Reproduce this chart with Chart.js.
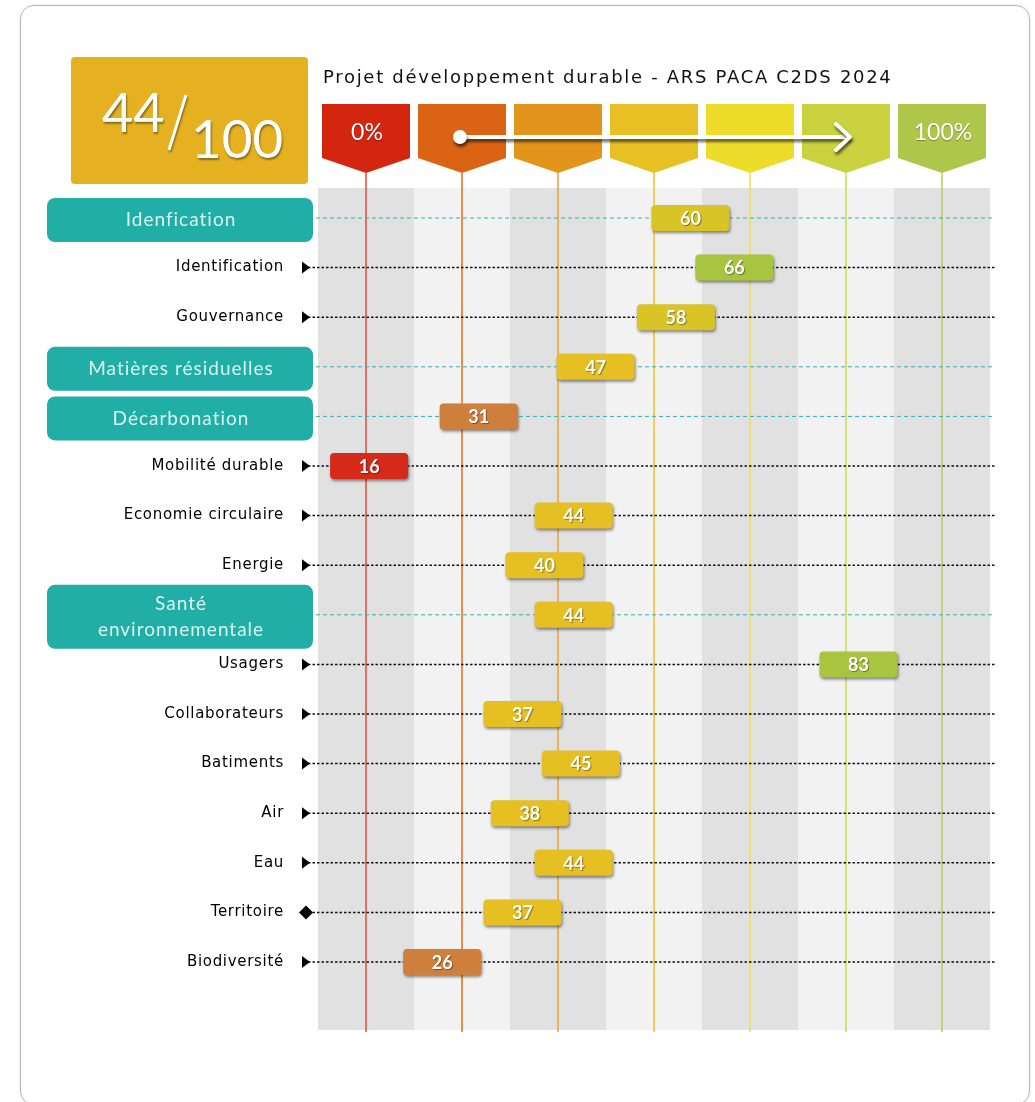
<!DOCTYPE html>
<html lang="fr">
<head>
<meta charset="utf-8">
<title>Projet développement durable - ARS PACA C2DS 2024</title>
<script src="https://cdn.jsdelivr.net/npm/chart.js@4.4.1/dist/chart.umd.min.js"></script>
<style>
  html, body { margin: 0; padding: 0; background: #fff; overflow: hidden; }
  .card {
    position: absolute; left: 20px; top: 5px; width: 1010px; height: 1100px;
    border: 1.5px solid #b8b8b8; border-radius: 14px; box-sizing: border-box;
    box-shadow: 0 0 3px rgba(0,0,0,0.12);
  }
  #chart { position: absolute; left: 0; top: 0; }
</style>
</head>
<body>
<div class="card"></div>
<canvas id="chart" width="1035" height="1102"></canvas>
<script>
// --- data ---
const title = 'Projet développement durable - ARS PACA C2DS 2024';
const globalScore = 44;
const globalMax = 100;

const categories = [
  'Idenfication', 'Identification', 'Gouvernance', 'Matières résiduelles',
  'Décarbonation', 'Mobilité durable', 'Economie circulaire', 'Energie',
  'Santé environnementale', 'Usagers', 'Collaborateurs', 'Batiments',
  'Air', 'Eau', 'Territoire', 'Biodiversité'
];
const scores = [60, 66, 58, 47, 31, 16, 44, 40, 44, 83, 37, 45, 38, 44, 37, 26];
const isTheme = [true, false, false, true, true, false, false, false, true, false, false, false, false, false, false, false];
const markers = ['', 'triangle', 'triangle', '', '', 'triangle', 'triangle', 'triangle', '', 'triangle', 'triangle', 'triangle', 'triangle', 'triangle', 'diamond', 'triangle'];

const stageLabels = ['0%', '', '', '', '', '', '100%'];
const stageColors = ['#d4260f', '#db6414', '#e3941a', '#e9c023', '#eedc2b', '#cad33f', '#aec74a'];
const stageLineColors = ['#e4553c', '#e9731f', '#eaa445', '#efc232', '#eee05a', '#d2da55', '#b9d065'];

// badge colour according to the score
function badgeColor(v) {
  if (v < 20) return '#d5291a';
  if (v < 35) return '#cf7f3c';
  if (v < 50) return '#e6c022';
  if (v < 65) return '#d9c428';
  return '#a9c540';
}

function roundRect(ctx, x, y, w, h, r) {
  ctx.beginPath();
  ctx.moveTo(x + r, y);
  ctx.arcTo(x + w, y, x + w, y + h, r);
  ctx.arcTo(x + w, y + h, x, y + h, r);
  ctx.arcTo(x, y + h, x, y, r);
  ctx.arcTo(x, y, x + w, y, r);
  ctx.closePath();
}

function noShadow(ctx) {
  ctx.shadowColor = 'transparent';
  ctx.shadowOffsetX = 0;
  ctx.shadowOffsetY = 0;
  ctx.shadowBlur = 0;
}

const decor = {
  id: 'decor',
  beforeDatasetsDraw(chart) {
    const { ctx, chartArea: a, scales: { y } } = chart;
    const n = stageColors.length;
    const bandW = (a.right - a.left) / n;
    const top = a.top - 30, bottom = a.bottom + 68;
    ctx.save();

    // stripes
    for (let i = 0; i < n; i++) {
      ctx.fillStyle = i % 2 ? '#f2f2f2' : '#e1e1e1';
      ctx.fillRect(a.left + i * bandW, top, bandW, bottom - top);
    }

    // tabs + vertical lines
    const tabTop = 104, tabRect = 158, tabTip = 173, tabW = 88;
    for (let i = 0; i < n; i++) {
      const cx = a.left + (i + 0.5) * bandW;
      ctx.strokeStyle = stageLineColors[i];
      ctx.lineWidth = 1.6;
      ctx.beginPath();
      ctx.moveTo(cx, tabTip);
      ctx.lineTo(cx, bottom + 2);
      ctx.stroke();

      ctx.fillStyle = stageColors[i];
      ctx.beginPath();
      ctx.moveTo(cx - tabW / 2, tabTop);
      ctx.lineTo(cx + tabW / 2, tabTop);
      ctx.lineTo(cx + tabW / 2, tabRect);
      ctx.lineTo(cx, tabTip);
      ctx.lineTo(cx - tabW / 2, tabRect);
      ctx.closePath();
      ctx.fill();

      if (stageLabels[i]) {
        ctx.fillStyle = '#fff';
        ctx.font = '23px Lato';
        ctx.textAlign = 'center';
        ctx.textBaseline = 'middle';
        ctx.shadowColor = 'rgba(0,0,0,0.35)';
        ctx.shadowOffsetY = 1;
        ctx.shadowBlur = 1;
        ctx.fillText(stageLabels[i], cx + 1, 133);
        noShadow(ctx);
      }
    }

    // progress arrow
    const x0 = a.left + 1.5 * bandW - 2, x1 = a.left + 5.5 * bandW + 4, ay = 137;
    ctx.shadowColor = 'rgba(0,0,0,0.6)';
    ctx.shadowOffsetY = 3;
    ctx.shadowOffsetX = 1;
    ctx.shadowBlur = 3;
    ctx.strokeStyle = '#fff';
    ctx.lineWidth = 4;
    ctx.lineCap = 'round';
    ctx.lineJoin = 'round';
    ctx.beginPath();
    ctx.moveTo(x0, ay);
    ctx.lineTo(x1 - 2, ay);
    ctx.stroke();
    ctx.beginPath();
    ctx.moveTo(x1 - 14, ay - 13);
    ctx.lineTo(x1, ay);
    ctx.lineTo(x1 - 14, ay + 13);
    ctx.stroke();
    ctx.fillStyle = '#fff';
    ctx.beginPath();
    ctx.arc(x0, ay, 7, 0, Math.PI * 2);
    ctx.fill();
    noShadow(ctx);

    // title
    ctx.fillStyle = '#111';
    ctx.font = '18px "DejaVu Sans"';
    ctx.letterSpacing = '1.7px';
    ctx.textAlign = 'left';
    ctx.textBaseline = 'alphabetic';
    ctx.fillText(title, 323, 83);
    ctx.letterSpacing = '0px';

    // global score box
    ctx.fillStyle = '#e5b120';
    roundRect(ctx, 71, 57, 237, 127, 4);
    ctx.fill();
    ctx.fillStyle = '#fff';
    ctx.strokeStyle = '#fff';
    ctx.shadowColor = 'rgba(0,0,0,0.4)';
    ctx.shadowOffsetX = 1;
    ctx.shadowOffsetY = 2;
    ctx.shadowBlur = 2;
    ctx.font = '54px Lato';
    ctx.textAlign = 'left';
    ctx.fillText(String(globalScore), 102, 132);
    ctx.lineWidth = 3;
    ctx.lineCap = 'butt';
    ctx.beginPath();
    ctx.moveTo(186, 95);
    ctx.lineTo(169, 150);
    ctx.stroke();
    ctx.font = '53px Lato';
    ctx.fillText(String(globalMax), 191, 158);
    noShadow(ctx);

    // rows: labels, markers, guide lines
    categories.forEach((label, i) => {
      const py = y.getPixelForValue(i);
      if (isTheme[i]) {
        ctx.strokeStyle = '#2cb5ae';
        ctx.lineWidth = 1;
        ctx.setLineDash([4, 3]);
        ctx.beginPath();
        ctx.moveTo(316, py);
        ctx.lineTo(a.right + 5, py);
        ctx.stroke();
        ctx.setLineDash([]);

        const lines = label.length > 20 ? label.split(' ') : [label];
        const h = lines.length > 1 ? 64 : 44;
        const by = py - h / 2 + 2;
        ctx.fillStyle = '#21aea6';
        roundRect(ctx, 47, by, 266, h, 8);
        ctx.fill();
        ctx.fillStyle = '#d9f3ef';
        ctx.font = '19px Lato';
        ctx.letterSpacing = '1px';
        ctx.textAlign = 'center';
        ctx.textBaseline = 'middle';
        lines.forEach((t, k) => {
          ctx.fillText(t, 181, by + h / 2 + (k - (lines.length - 1) / 2) * 26);
        });
        ctx.letterSpacing = '0px';
      } else {
        ctx.strokeStyle = '#111';
        ctx.lineWidth = 1.5;
        ctx.setLineDash([2.5, 2]);
        ctx.beginPath();
        ctx.moveTo(308, py);
        ctx.lineTo(a.right + 5, py);
        ctx.stroke();
        ctx.setLineDash([]);

        ctx.fillStyle = '#000';
        ctx.beginPath();
        if (markers[i] === 'diamond') {
          ctx.moveTo(299, py);
          ctx.lineTo(306, py - 7);
          ctx.lineTo(313, py);
          ctx.lineTo(306, py + 7);
        } else {
          ctx.moveTo(302, py - 6);
          ctx.lineTo(310, py);
          ctx.lineTo(302, py + 6);
        }
        ctx.closePath();
        ctx.fill();

        ctx.font = '15px "DejaVu Sans"';
        ctx.letterSpacing = '0.7px';
        ctx.textAlign = 'right';
        ctx.textBaseline = 'middle';
        ctx.fillText(label, 284, py);
        ctx.letterSpacing = '0px';
      }
    });
    ctx.restore();
  },
  afterDatasetsDraw(chart) {
    const { ctx } = chart;
    const meta = chart.getDatasetMeta(0);
    ctx.save();
    meta.data.forEach((pt, i) => {
      const w = 78, h = 26;
      ctx.shadowColor = 'rgba(0,0,0,0.45)';
      ctx.shadowOffsetY = 2;
      ctx.shadowOffsetX = 1;
      ctx.shadowBlur = 3;
      ctx.fillStyle = badgeColor(scores[i]);
      roundRect(ctx, pt.x - w / 2, pt.y - h / 2, w, h, 4);
      ctx.fill();
      ctx.shadowColor = 'rgba(0,0,0,0.4)';
      ctx.shadowOffsetY = 1;
      ctx.shadowOffsetX = 1;
      ctx.shadowBlur = 1;
      ctx.fillStyle = '#fff';
      ctx.font = 'bold 18px Lato';
      ctx.textAlign = 'center';
      ctx.textBaseline = 'middle';
      ctx.fillText(String(scores[i]), pt.x, pt.y + 1);
    });
    ctx.restore();
  }
};

new Chart(document.getElementById('chart'), {
  type: 'scatter',
  data: {
    datasets: [{
      label: 'Score',
      data: scores.map((v, i) => ({ x: v, y: categories[i] })),
      pointRadius: 0,
      pointHoverRadius: 0
    }]
  },
  options: {
    responsive: false,
    animation: false,
    events: [],
    layout: { padding: { left: 318, right: 45, top: 218, bottom: 140 } },
    scales: {
      x: { type: 'linear', min: 9, max: 101, display: false },
      y: { type: 'category', labels: categories, offset: false, display: false }
    },
    plugins: {
      legend: { display: false },
      tooltip: { enabled: false }
    }
  },
  plugins: [decor]
});
</script>
</body>
</html>
